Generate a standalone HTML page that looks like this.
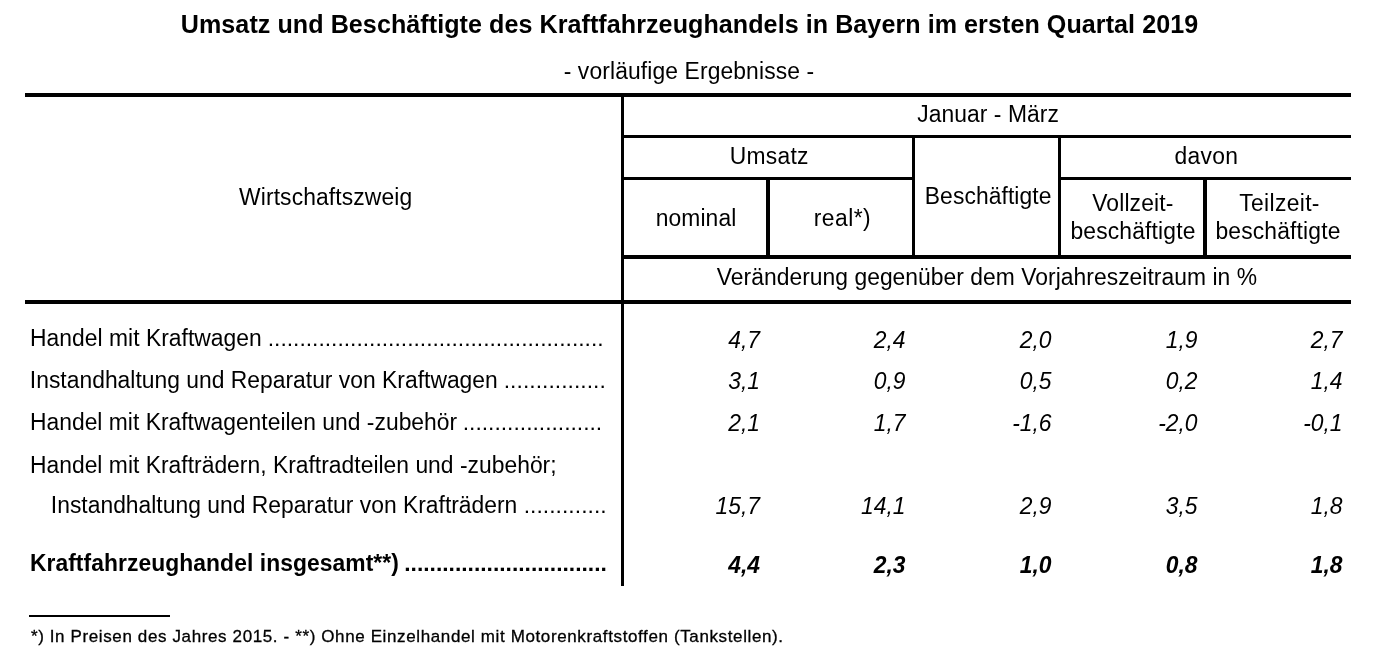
<!DOCTYPE html>
<html lang="de">
<head>
<meta charset="utf-8">
<title>Umsatz und Beschäftigte des Kraftfahrzeughandels in Bayern</title>
<style>
html,body{margin:0;padding:0;background:#fff;}
html{filter:grayscale(1);}
body{width:1379px;height:669px;position:relative;overflow:hidden;font-family:"Liberation Sans",sans-serif;color:#000;}
.l{position:absolute;background:#000;}
.t{position:absolute;white-space:nowrap;line-height:1;transform-origin:0 84.65%;}
.b{font-weight:bold;}
.i{font-style:italic;}
</style>
</head>
<body>
<div class="l" style="left:25px;top:93px;width:1326px;height:4px"></div>
<div class="l" style="left:621px;top:93px;width:3px;height:493px"></div>
<div class="l" style="left:624px;top:135px;width:727px;height:3px"></div>
<div class="l" style="left:624px;top:177px;width:288px;height:3px"></div>
<div class="l" style="left:1061px;top:177px;width:290px;height:3px"></div>
<div class="l" style="left:624px;top:255px;width:727px;height:4px"></div>
<div class="l" style="left:25px;top:300px;width:1326px;height:4px"></div>
<div class="l" style="left:766px;top:180px;width:4px;height:75px"></div>
<div class="l" style="left:912px;top:138px;width:3px;height:117px"></div>
<div class="l" style="left:1058px;top:138px;width:3px;height:117px"></div>
<div class="l" style="left:1203px;top:180px;width:4px;height:75px"></div>
<div class="l" style="left:29px;top:615px;width:141px;height:2px"></div>
<div class="t b" style="left:180.80px;top:11.75px;font-size:25.1px;letter-spacing:0.062px;">Umsatz und Beschäftigte des Kraftfahrzeughandels in Bayern im ersten Quartal 2019</div>
<div class="t" style="left:563.67px;top:59.66px;font-size:22.85px;letter-spacing:0.120px;transform:scaleY(1.07);">- vorläufige Ergebnisse -</div>
<div class="t" style="left:917.36px;top:102.66px;font-size:22.85px;letter-spacing:0.045px;transform:scaleY(1.07);">Januar - März</div>
<div class="t" style="left:729.84px;top:144.66px;font-size:22.85px;letter-spacing:0.233px;transform:scaleY(1.07);">Umsatz</div>
<div class="t" style="left:1174.60px;top:144.66px;font-size:22.85px;letter-spacing:0.257px;transform:scaleY(1.07);">davon</div>
<div class="t" style="left:239.09px;top:185.66px;font-size:22.85px;letter-spacing:0.110px;transform:scaleY(1.07);">Wirtschaftszweig</div>
<div class="t" style="left:655.71px;top:206.66px;font-size:22.85px;letter-spacing:0.098px;transform:scaleY(1.07);">nominal</div>
<div class="t" style="left:813.84px;top:206.66px;font-size:22.85px;letter-spacing:0.431px;transform:scaleY(1.07);">real*)</div>
<div class="t" style="left:924.78px;top:184.66px;font-size:22.85px;letter-spacing:0.088px;transform:scaleY(1.07);">Beschäftigte</div>
<div class="t" style="left:1092.28px;top:191.66px;font-size:22.85px;letter-spacing:0.132px;transform:scaleY(1.07);">Vollzeit-</div>
<div class="t" style="left:1070.49px;top:219.66px;font-size:22.85px;letter-spacing:0.151px;transform:scaleY(1.07);">beschäftigte</div>
<div class="t" style="left:1239.25px;top:191.66px;font-size:22.85px;letter-spacing:0.344px;transform:scaleY(1.07);">Teilzeit-</div>
<div class="t" style="left:1215.49px;top:219.66px;font-size:22.85px;letter-spacing:0.151px;transform:scaleY(1.07);">beschäftigte</div>
<div class="t" style="left:716.79px;top:266.16px;font-size:22.85px;letter-spacing:0.037px;transform:scaleY(1.07);">Veränderung gegenüber dem Vorjahreszeitraum in %</div>
<div class="t" style="left:29.98px;top:326.66px;font-size:22.85px;letter-spacing:0.037px;transform:scaleY(1.07);">Handel mit Kraftwagen</div>
<div class="t i" style="left:760.00px;top:328.66px;font-size:22.85px;transform:translateX(-100%) scaleY(1.07);">4,7</div>
<div class="t i" style="left:905.50px;top:328.66px;font-size:22.85px;transform:translateX(-100%) scaleY(1.07);">2,4</div>
<div class="t i" style="left:1051.50px;top:328.66px;font-size:22.85px;transform:translateX(-100%) scaleY(1.07);">2,0</div>
<div class="t i" style="left:1197.50px;top:328.66px;font-size:22.85px;transform:translateX(-100%) scaleY(1.07);">1,9</div>
<div class="t i" style="left:1342.50px;top:328.66px;font-size:22.85px;transform:translateX(-100%) scaleY(1.07);">2,7</div>
<div class="t" style="left:29.86px;top:368.66px;font-size:22.85px;letter-spacing:0.013px;transform:scaleY(1.07);">Instandhaltung und Reparatur von Kraftwagen</div>
<div class="t i" style="left:760.00px;top:369.66px;font-size:22.85px;transform:translateX(-100%) scaleY(1.07);">3,1</div>
<div class="t i" style="left:905.50px;top:369.66px;font-size:22.85px;transform:translateX(-100%) scaleY(1.07);">0,9</div>
<div class="t i" style="left:1051.50px;top:369.66px;font-size:22.85px;transform:translateX(-100%) scaleY(1.07);">0,5</div>
<div class="t i" style="left:1197.50px;top:369.66px;font-size:22.85px;transform:translateX(-100%) scaleY(1.07);">0,2</div>
<div class="t i" style="left:1342.50px;top:369.66px;font-size:22.85px;transform:translateX(-100%) scaleY(1.07);">1,4</div>
<div class="t" style="left:29.98px;top:410.66px;font-size:22.85px;letter-spacing:0.012px;transform:scaleY(1.07);">Handel mit Kraftwagenteilen und -zubehör</div>
<div class="t i" style="left:760.00px;top:411.66px;font-size:22.85px;transform:translateX(-100%) scaleY(1.07);">2,1</div>
<div class="t i" style="left:905.50px;top:411.66px;font-size:22.85px;transform:translateX(-100%) scaleY(1.07);">1,7</div>
<div class="t i" style="left:1051.50px;top:411.66px;font-size:22.85px;transform:translateX(-100%) scaleY(1.07);">-1,6</div>
<div class="t i" style="left:1197.50px;top:411.66px;font-size:22.85px;transform:translateX(-100%) scaleY(1.07);">-2,0</div>
<div class="t i" style="left:1342.50px;top:411.66px;font-size:22.85px;transform:translateX(-100%) scaleY(1.07);">-0,1</div>
<div class="t" style="left:29.98px;top:453.66px;font-size:22.85px;letter-spacing:0.018px;transform:scaleY(1.07);">Handel mit Krafträdern, Kraftradteilen und -zubehör;</div>
<div class="t" style="left:50.87px;top:493.66px;font-size:22.85px;letter-spacing:0.009px;transform:scaleY(1.07);">Instandhaltung und Reparatur von Krafträdern</div>
<div class="t i" style="left:760.00px;top:494.66px;font-size:22.85px;transform:translateX(-100%) scaleY(1.07);">15,7</div>
<div class="t i" style="left:905.50px;top:494.66px;font-size:22.85px;transform:translateX(-100%) scaleY(1.07);">14,1</div>
<div class="t i" style="left:1051.50px;top:494.66px;font-size:22.85px;transform:translateX(-100%) scaleY(1.07);">2,9</div>
<div class="t i" style="left:1197.50px;top:494.66px;font-size:22.85px;transform:translateX(-100%) scaleY(1.07);">3,5</div>
<div class="t i" style="left:1342.50px;top:494.66px;font-size:22.85px;transform:translateX(-100%) scaleY(1.07);">1,8</div>
<div class="t b" style="left:29.88px;top:551.66px;font-size:22.85px;letter-spacing:0.070px;transform:scaleY(1.035);">Kraftfahrzeughandel insgesamt**)</div>
<div class="t b i" style="left:760.00px;top:553.66px;font-size:22.85px;transform:translateX(-100%) scaleY(1.04);">4,4</div>
<div class="t b i" style="left:905.50px;top:553.66px;font-size:22.85px;transform:translateX(-100%) scaleY(1.04);">2,3</div>
<div class="t b i" style="left:1051.50px;top:553.66px;font-size:22.85px;transform:translateX(-100%) scaleY(1.04);">1,0</div>
<div class="t b i" style="left:1197.50px;top:553.66px;font-size:22.85px;transform:translateX(-100%) scaleY(1.04);">0,8</div>
<div class="t b i" style="left:1342.50px;top:553.66px;font-size:22.85px;transform:translateX(-100%) scaleY(1.04);">1,8</div>
<div class="t" style="left:267.72px;top:326.66px;font-size:22.85px;letter-spacing:-0.010px;">.....................................................</div>
<div class="t" style="left:503.74px;top:368.66px;font-size:22.85px;letter-spacing:0.036px;">................</div>
<div class="t" style="left:462.74px;top:410.66px;font-size:22.85px;letter-spacing:-0.007px;">......................</div>
<div class="t" style="left:523.72px;top:493.66px;font-size:22.85px;letter-spacing:0.032px;">.............</div>
<div class="t b" style="left:404.29px;top:551.66px;font-size:22.85px;letter-spacing:-0.017px;">................................</div>
<div class="t" style="left:30.91px;top:627.61px;font-size:17px;letter-spacing:0.620px;-webkit-text-stroke:0.3px #000;">*) In Preisen des Jahres 2015. - **) Ohne Einzelhandel mit Motorenkraftstoffen (Tankstellen).</div>
</body>
</html>
